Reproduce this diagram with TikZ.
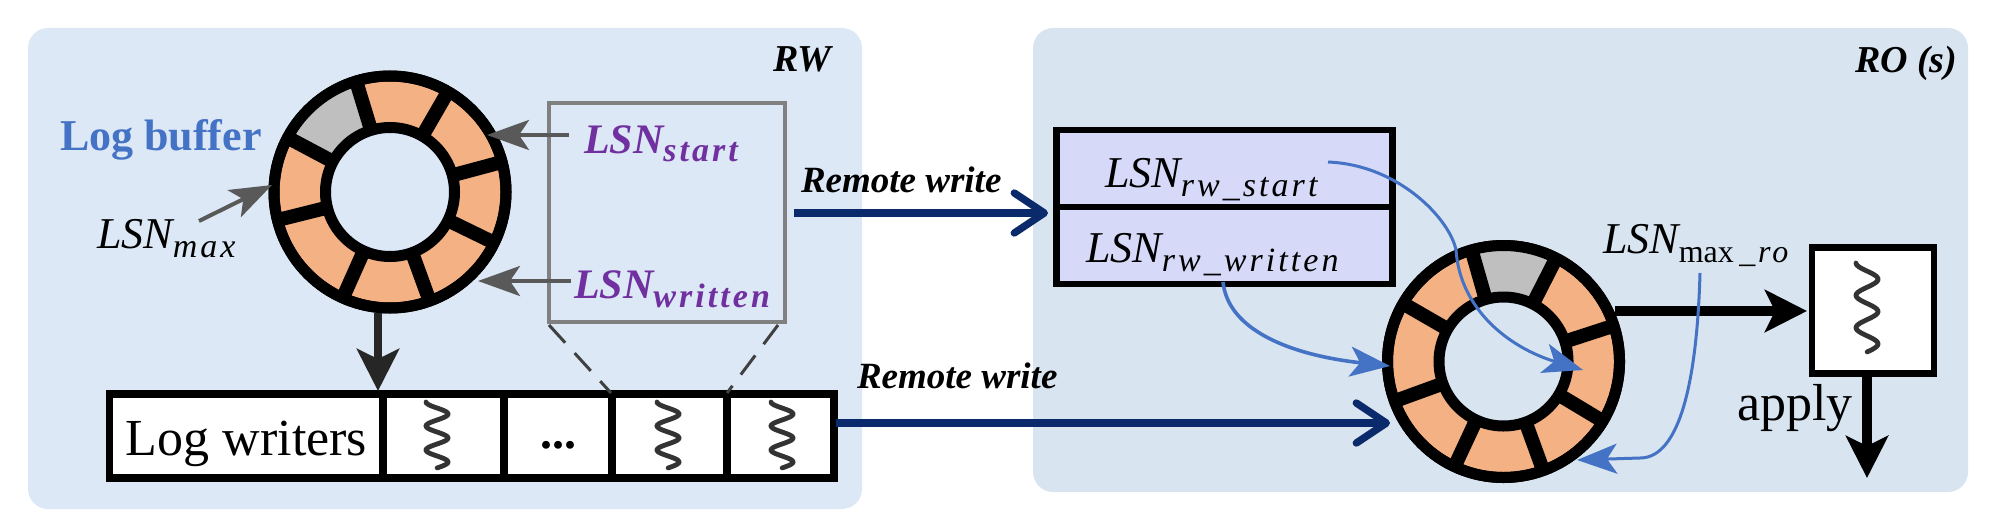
\documentclass[tikz,border=0pt]{standalone}
\usepackage{fontspec}
\setmainfont{Liberation Serif}
\newfontfamily\spaced[LetterSpace=9]{Liberation Serif}
\usetikzlibrary{arrows.meta,calc}
\definecolor{panelL}{HTML}{DCE8F5}
\definecolor{panelR}{HTML}{D8E4F0}
\definecolor{ringorange}{HTML}{F4B183}
\definecolor{ringgray}{HTML}{BFBFBF}
\definecolor{navyline}{HTML}{0B2A6B}
\definecolor{blueline}{HTML}{4472C4}
\definecolor{purpletext}{HTML}{7030A0}
\definecolor{grayline}{HTML}{595959}
\definecolor{stackfill}{HTML}{D6D9F7}
\newcommand{\sz}[1]{\fontsize{#1pt}{#1pt}\selectfont}
\newcommand{\lsnplain}[1]{{\itshape\sz{22}LSN}\raisebox{-4.5pt}{\sz{17}\spaced\itshape #1}}
\newcommand{\lsnbold}[1]{{\bfseries\itshape\sz{21}LSN}\raisebox{-4.5pt}{\sz{17}\spaced\bfseries\itshape #1}}
\newcommand{\ringdraw}[6]{% name, panel colour, gray from, gray to, centre, spoke list
  \node[ringout] (#1) at (#5) {};
  \begin{scope}
    \clip (#5) circle[radius=116];
    \fill[ringgray] (#5) -- ($(#5)+(#3:170)$) -- ($(#5)+(#4:170)$) -- cycle;
  \end{scope}
  \foreach \a in {#6} {\draw[spoke] ($(#5)+(\a:62)$) -- ($(#5)+(\a:118)$);}
  \node[ringout,fill=none] at (#5) {};
  \node[ringin,fill=#2] (#1in) at (#5) {};
}
\newcommand{\squig}[3]{\draw[squigline] plot[domain=0:1,samples=70,smooth] ({#1-11*cos(360*2.75*\x)},{#2+#3*\x});}
\tikzset{
  panel/.style={rounded corners=10pt},
  ringout/.style={circle,draw=black,fill=ringorange,line width=5.5pt,minimum size=116pt,inner sep=0pt,outer sep=0pt},
  ringin/.style={circle,draw=black,line width=5.5pt,minimum size=64.5pt,inner sep=0pt,outer sep=0pt},
  spoke/.style={black,line width=7pt},
  cellbox/.style={draw=black,fill=white,line width=3.6pt,inner sep=0pt,outer sep=0pt,minimum height=42pt},
  stackbox/.style={draw=black,fill=stackfill,line width=3.4pt,inner sep=0pt,outer sep=0pt,minimum width=168pt},
  txt/.style={inner sep=0pt,outer sep=0pt,anchor=base west},
  grayarrow/.style={grayline,line width=2pt,-{Stealth[length=21pt,width=15pt,inset=5pt]}},
  blackarrow/.style={black,line width=5pt,-{Stealth[length=21pt,width=21pt,inset=5pt]}},
  navyarrow/.style={navyline,line width=3.7pt,-{Straight Barb[length=15pt,width=20pt,line width=3.7pt,round]}},
  bluecurve/.style={blueline,line width=1.5pt,-{Stealth[length=20pt,width=15pt,inset=5pt]}},
  squigline/.style={draw=black!80,line width=2.4pt,line cap=round},
}
\begin{document}
\begin{tikzpicture}[x=0.5pt,y=-0.5pt]
\useasboundingbox (0,0) rectangle (2000,524);
\fill[panelL,panel] (28,28) rectangle (862,509);
\fill[panelR,panel] (1033,28) rectangle (1968,492);

\node[txt,font=\sz{19}\bfseries\itshape] (rwlabel) at (773,72) {RW};
\node[txt,font=\sz{19}\bfseries\itshape] (rolabel) at (1855,73) {RO (s)};
\node[txt,font=\sz{22}\bfseries,text=blueline] (logbuf) at (60,150) {Log buffer};

% left ring
\ringdraw{ringL}{panelL}{-107}{-152}{390,192}{-107,-60,-15,26,70,114,166,-152}

% log writers row
\node[cellbox,minimum width=137pt,font=\sz{26},text height=19.5pt,text depth=0pt] (lw) at (246.5,436) {Log writers};
\node[cellbox,minimum width=60.5pt] (w1) at (443.5,436) {};
\node[cellbox,minimum width=54pt,font=\sz{24}\bfseries,text height=12pt,text depth=0pt] (w2) at (558,436) {...};
\node[cellbox,minimum width=57.5pt] (w3) at (669.5,436) {};
\node[cellbox,minimum width=53.5pt] (w4) at (780.5,436) {};
\squig{437}{402}{66}
\squig{668}{402}{66}
\squig{782}{402}{66}

% LSN box
\node[draw=gray,line width=2pt,minimum width=118pt,minimum height=109.5pt,inner sep=0pt,outer sep=0pt] (lsnbox) at (667,212.5) {};
\node[txt,text=purpletext] (lsns) at (584,153) {\lsnbold{start}};
\node[txt,text=purpletext] (lsnw) at (574,298) {\lsnbold{written}};
\node[txt] (lsnm) at (97,248) {\lsnplain{max}};

\coordinate (gs1) at (569,135); \coordinate (gs2) at (487,135);
\coordinate (gw1) at (571,281); \coordinate (gw2) at (478,281);
\coordinate (gm1) at (199,221); \coordinate (gm2) at (272,185);
\draw[grayarrow] (gs1) -- (gs2);
\draw[grayarrow] (gw1) -- (gw2);
\draw[grayarrow] (gm1) -- (gm2);

\coordinate (ringLb) at (378,313); \coordinate (lwtop) at (378,391);
\draw[black!85,line width=4pt,-{Stealth[length=21pt,width=21pt,inset=5pt]}] (ringLb) -- (lwtop);

\coordinate (dl1) at (549,325); \coordinate (dl2) at (611,393);
\coordinate (dr1) at (778,325); \coordinate (dr2) at (727,393);
\draw[black!75,line width=1.5pt,dash pattern=on 12pt off 7pt] (dl1) -- (dl2);
\draw[black!75,line width=1.5pt,dash pattern=on 12pt off 7pt] (dr1) -- (dr2);

% right stack
\node[stackbox,minimum height=38.5pt] (st1) at (1224.5,168.5) {};
\node[stackbox,minimum height=38.5pt] (st2) at (1224.5,245.5) {};
\node[txt] (t1) at (1105,187) {\lsnplain{rw\_start}};
\node[txt] (t2) at (1086,262) {\lsnplain{rw\_written}};

% right ring
\ringdraw{ringR}{panelR}{-106}{-63}{1503.5,361.5}{-106,-63,-18,31,70,115,160,-150}

% apply box
\node[draw=black,fill=white,line width=3.4pt,minimum width=61pt,minimum height=63pt,inner sep=0pt,outer sep=0pt] (app) at (1873,310.5) {};
\squig{1867}{263}{89}
\node[txt,font=\sz{26}] (applyt) at (1737,420) {apply};
\node[txt] (lmr) at (1603,253) {{\itshape\sz{22}LSN}\raisebox{-4.5pt}{\sz{16}max}\raisebox{-4.5pt}{\sz{16}\spaced\itshape\,\_ro}};

% connectors
\coordinate (rw1a) at (794,213); \coordinate (rw1b) at (1048,213);
\coordinate (rw2a) at (836,423); \coordinate (rw2b) at (1390,423);
\draw[navyarrow] (rw1a) -- (rw1b);
\draw[navyarrow] (rw2a) -- (rw2b);
\node[txt,font=\sz{18.5}\bfseries\itshape] (rwt1) at (801,192) {Remote write};
\node[txt,font=\sz{18.5}\bfseries\itshape] (rwt2) at (857,388) {Remote write};

\coordinate (ringRr) at (1615,311); \coordinate (appl) at (1807,311);
\draw[blackarrow] (ringRr) -- (appl);
\coordinate (appb) at (1867,377); \coordinate (appe) at (1867,478);
\draw[blackarrow] (appb) -- (appe);

\coordinate (c1a) at (1328,162); \coordinate (c1m) at (1456,250); \coordinate (c1b) at (1583,370);
\draw[bluecurve] (c1a) .. controls (1400,165) and (1450,220) .. (c1m) .. controls (1460,310) and (1510,348) .. (c1b);
\coordinate (c2a) at (1223,282); \coordinate (c2b) at (1390,366);
\draw[bluecurve,line width=1.8pt] (c2a) .. controls (1228,330) and (1290,355) .. (c2b);
\coordinate (c3a) at (1700,273); \coordinate (c3m) at (1640,458); \coordinate (c3b) at (1577,460);
\draw[bluecurve] (c3a) .. controls (1697,380) and (1680,458) .. (c3m) -- (c3b);
\end{tikzpicture}
\end{document}
